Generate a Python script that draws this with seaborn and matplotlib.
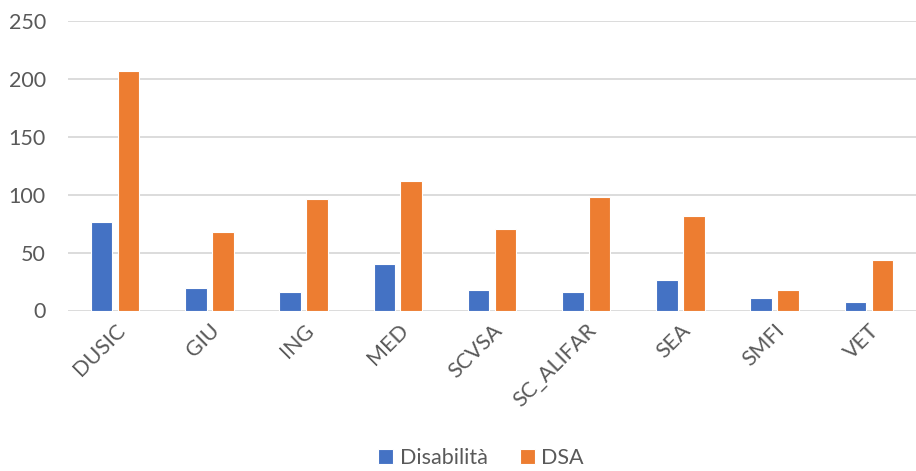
import matplotlib
matplotlib.use("Agg")
import matplotlib.pyplot as plt
import seaborn as sns
import pandas as pd

categories = ["DUSIC", "GIU", "ING", "MED", "SCVSA", "SC_ALIFAR", "SEA", "SMFI", "VET"]
disabilita = [76, 19, 16, 40, 18, 16, 26, 11, 7]
dsa = [207, 68, 96, 112, 70, 98, 82, 18, 44]
series_names = ["Disabilità", "DSA"]
colors = ["#4472C4", "#ED7D31"]
yticks = [0, 50, 100, 150, 200, 250]

df = pd.DataFrame({
    "cat": categories * 2,
    "val": disabilita + dsa,
    "serie": [series_names[0]] * len(categories) + [series_names[1]] * len(categories),
})

sns.set_theme(style="white")
plt.rcParams["font.family"] = ["Lato", "DejaVu Sans"]

fig = plt.figure(figsize=(9.16, 4.71), dpi=100)
ax = fig.add_axes([68 / 916, 1 - 310.5 / 471, 1 - 68 / 916, (310.5 - 21) / 471])

sns.barplot(data=df, x="cat", y="val", hue="serie", palette=colors, ax=ax,
            width=0.572, gap=0.2, edgecolor="white", linewidth=0.8, legend=True,
            saturation=1)

ax.set_ylim(0, 250)
ax.set_xlim(-0.5, len(categories) - 0.5)
ax.set_yticks(yticks)
ax.set_yticklabels([str(t) for t in yticks])
ax.yaxis.grid(True, color="#D9D9D9", linewidth=1.3)
ax.set_axisbelow(True)
for s in ax.spines.values():
    s.set_visible(False)
ax.tick_params(axis="both", length=0, colors="#595959", labelsize=15.5)
ax.tick_params(axis="y", pad=16)
ax.tick_params(axis="x", pad=7)
ax.set_xlabel("")
ax.set_ylabel("")
for lab in ax.get_xticklabels():
    lab.set_rotation(45)
    lab.set_ha("right")
    lab.set_rotation_mode("anchor")

handles, labels = ax.get_legend_handles_labels()
ax.legend_.remove()
fig.legend(handles, labels, loc="center", bbox_to_anchor=(0.525, 0.028), ncol=2,
           frameon=False, fontsize=15.5, labelcolor="#595959", handlelength=0.7,
           handleheight=0.7, handletextpad=0.3, columnspacing=1.5)

fig.savefig("out.png", dpi=100)
